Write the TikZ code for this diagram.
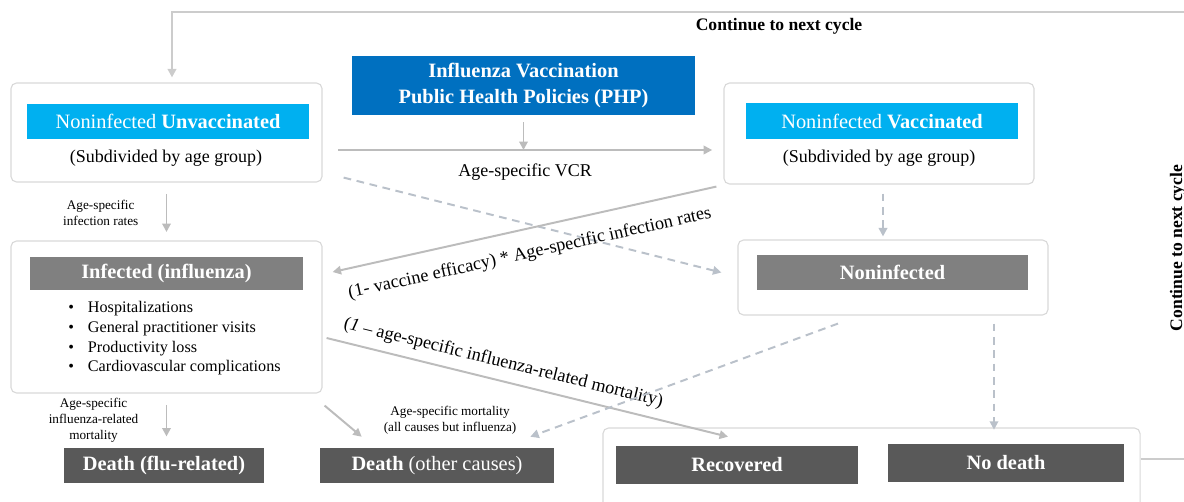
\documentclass[tikz,border=0pt]{standalone}
\usepackage{fontspec}
\setmainfont{Liberation Serif}
\usetikzlibrary{arrows.meta}

\definecolor{lightblue}{RGB}{0,176,240}
\definecolor{darkblue}{RGB}{0,112,192}
\definecolor{midgray}{RGB}{128,128,128}
\definecolor{darkgray}{RGB}{89,89,89}
\definecolor{framegray}{RGB}{217,217,217}
\definecolor{arrowgray}{RGB}{188,188,188}
\definecolor{loopgray}{RGB}{204,204,204}
\definecolor{dashgray}{RGB}{186,193,202}

\begin{document}
\begin{tikzpicture}[x=0.025cm, y=-0.025cm,
    frame/.style={draw=framegray, line width=0.8pt, rounded corners=4pt, fill=white, inner sep=0pt},
    bar/.style={text=white, inner sep=0pt, font=\fontsize{14.5}{17.8}\selectfont},
    sub/.style={font=\fontsize{12.8}{15}\selectfont},
    small/.style={font=\fontsize{9.4}{11.4}\selectfont, align=center},
    arr/.style={draw=arrowgray, line width=1.4pt, -{Triangle[length=6pt,width=6pt]}},
    darr/.style={arr, draw=dashgray, dash pattern=on 5.5pt off 4pt},
    rate/.style={font=\fontsize{13}{15}\selectfont, sloped, inner sep=2pt}]
    \useasboundingbox (0,0) rectangle (1184,501);

    % outer boxes
    \node[frame, minimum width=7.775cm, minimum height=2.475cm] (unvacbox) at (166.5,132.5) {};
    \node[frame, minimum width=7.75cm, minimum height=2.525cm] (vacbox) at (879,133.5) {};
    \node[frame, minimum width=7.775cm, minimum height=3.8cm] (infbox) at (166.5,317) {};
    \node[frame, minimum width=7.75cm, minimum height=1.875cm] (noinfbox) at (893,277.5) {};
    \node[frame, minimum width=13.425cm, minimum height=2.05cm] (endbox) at (871.5,469) {};

    % coloured bars
    \node[bar, fill=darkblue, minimum width=8.575cm, minimum height=1.475cm, align=center,
        font=\fontsize{14.5}{17.8}\selectfont\bfseries] (php) at (523.5,85.5)
        {Influenza Vaccination\\Public Health Policies (PHP)};
    \node[bar, fill=lightblue, minimum width=7.05cm, minimum height=0.875cm] (unvac) at (168,121.5)
        {Noninfected \textbf{Unvaccinated}};
    \node[bar, fill=lightblue, minimum width=6.8cm, minimum height=0.9cm] (vac) at (882,121)
        {Noninfected \textbf{Vaccinated}};
    \node[sub] (unvacsub) at (166,158) {(Subdivided by age group)};
    \node[sub] (vacsub) at (879,158) {(Subdivided by age group)};
    \node[bar, fill=midgray, minimum width=6.825cm, minimum height=0.825cm] (inf) at (166.5,273.5)
        {\textbf{Infected (influenza)}};
    \node[bar, fill=midgray, minimum width=6.775cm, minimum height=0.875cm] (noinf) at (892.5,272.5)
        {\textbf{Noninfected}};
    \node[anchor=west, inner sep=0pt, align=left, font=\fontsize{11.5}{14}\selectfont] (costs) at (68,338.5)
        {\makebox[14pt][l]{\textbullet}Hospitalizations\\
         \makebox[14pt][l]{\textbullet}General practitioner visits\\
         \makebox[14pt][l]{\textbullet}Productivity loss\\
         \makebox[14pt][l]{\textbullet}Cardiovascular complications};
    \node[bar, fill=darkgray, minimum width=5cm, minimum height=0.875cm] (dflu) at (164,465.5)
        {\textbf{Death (flu-related)}};
    \node[bar, fill=darkgray, minimum width=5.85cm, minimum height=0.875cm] (dother) at (437,465.5)
        {\textbf{Death} (other causes)};
    \node[bar, fill=darkgray, minimum width=6.05cm, minimum height=0.95cm] (recov) at (737,465)
        {\textbf{Recovered}};
    \node[bar, fill=darkgray, minimum width=5.9cm, minimum height=0.95cm] (nodeath) at (1006,463)
        {\textbf{No death}};

    % next cycle
    \coordinate (loopT) at (1184,12);
    \coordinate (loopB) at (1184,459);
    \coordinate (vcrA) at (338,150);
    \node[font=\fontsize{12.5}{15}\selectfont\bfseries] (cont) at (779,26) {Continue to next cycle};
    \node[font=\fontsize{12.5}{15}\selectfont\bfseries, rotate=90] (contside) at (1178,248) {Continue to next cycle};
    \draw[arr, draw=loopgray, line width=2pt] (loopT) -| ([shift={(5.5,-5)}]unvacbox.north);
    \draw[draw=loopgray, line width=2pt] (endbox.east |- loopB) -- (loopB);

    % vaccination
    \draw[arr] ([yshift=-5pt]php.south) -- (php.south |- vcrA);
    \draw[arr] (vcrA) -- ([xshift=-8pt]vcrA -| vacbox.west)
        node[midway, below=6pt, sub] (vcr) {Age-specific VCR};

    % infection
    \draw[arr] ([yshift=-8pt]unvacbox.south) -- ([yshift=6pt]infbox.north)
        node[midway, left=16pt, small] (infrate) {Age-specific\\infection rates};
    \draw[darr] ([shift={(21,-5)}]unvacbox.south east) -- ([shift={(-16,-5)}]noinfbox.west);
    \draw[arr] ([shift={(-7,2)}]vacbox.south west) -- ([shift={(10,-45)}]infbox.east)
        node[rate, midway, below=9pt] (vacrate) {(1- vaccine efficacy) * Age-specific infection rates};
    \draw[darr] ([shift={(4,9)}]vacbox.south) -- ([shift={(-10,-3)}]noinfbox.north);

    % outcomes
    \draw[arr] ([yshift=-8pt]infbox.south) -- ([yshift=8pt]infbox.south |- dflu.north)
        node[midway, left=16pt, small] (flumort) {Age-specific\\influenza-related\\mortality};
    \draw[arr] ([shift={(2,12)}]infbox.south east) -- ([shift={(42,-11)}]dother.north west);
    \draw[arr] ([shift={(4,21)}]infbox.east) -- ([shift={(-9,-9)}]recov.north)
        node[rate, pos=0.43, above=4pt] (recrate) {(\textit{1} – age-specific influenza-related mortality)};
    \draw[darr] ([shift={(-55,8)}]noinfbox.south) -- ([shift={(-24,-11)}]dother.north east);
    \node[small] (othermort) at (450,420) {Age-specific mortality\\(all causes but influenza)};
    \draw[darr] ([shift={(101,8)}]noinfbox.south) -- ([shift={(-12,-14)}]nodeath.north);
\end{tikzpicture}
\end{document}
